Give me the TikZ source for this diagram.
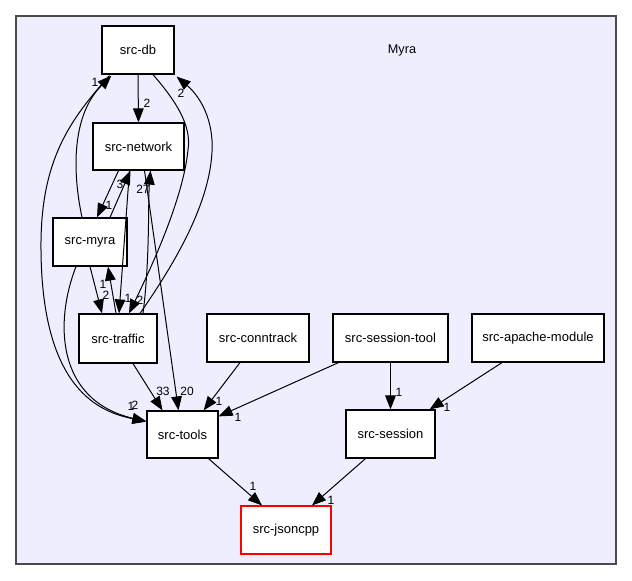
\documentclass[tikz,border=0pt]{standalone}
\usepackage{fontspec}
\setmainfont{Liberation Sans}
\usetikzlibrary{arrows.meta,calc}
\definecolor{clusterfill}{HTML}{EEEEFF}
\definecolor{clusterline}{HTML}{4A4A4A}
\tikzset{
  dirbox/.style={draw=black, fill=white, line width=0.9pt, inner sep=0pt, minimum height=36pt, font=\fontsize{9.75pt}{11pt}\selectfont},
  dep/.style={-{Triangle[length=10.5pt,width=8pt]}, line width=0.75pt, black},
  cnt/.style={inner sep=0pt, font=\fontsize{9pt}{10pt}\selectfont}
}
\begin{document}
\begin{tikzpicture}[x=0.75pt,y=-0.75pt]
\useasboundingbox (0,0) rectangle (632,581);
\fill[white] (0,0) rectangle (632,581);
\draw[fill=clusterfill, draw=clusterline, line width=1.1pt] (16,16) rectangle (616,564);
\node[font=\fontsize{9.5pt}{11pt}\selectfont] (title) at (402,50) {Myra};

\node[dirbox, minimum width=54pt] (db) at (138,50) {src-db};
\node[dirbox, minimum width=68.25pt, minimum height=35.25pt] (network) at (138.5,146.5) {src-network};
\node[dirbox, minimum width=55.5pt] (myra) at (90,242) {src-myra};
\node[dirbox, minimum width=58.5pt, minimum height=36.75pt] (traffic) at (118,338.5) {src-traffic};
\node[dirbox, minimum width=76.5pt] (conntrack) at (258,338) {src-conntrack};
\node[dirbox, minimum width=86.25pt] (sessiontool) at (390.5,338) {src-session-tool};
\node[dirbox, minimum width=99pt] (apache) at (538,338) {src-apache-module};
\node[dirbox, minimum width=53.25pt, minimum height=35.25pt] (tools) at (182.5,434.5) {src-tools};
\node[dirbox, minimum width=66.75pt] (session) at (390.5,434) {src-session};
\node[dirbox, draw=red, minimum width=67.5pt] (jsoncpp) at (286,530) {src-jsoncpp};

% db edges
\draw[dep] (db.south) -- (network.north);
\draw[dep] ($(db.south)+(15,0)$) .. controls (175,100) and (192,125) .. (188,150) .. controls (183,200) and (150,270) .. ($(traffic.north)+(11,0)$);
\draw[dep] ($(db.south west)+(8,1)$) .. controls (70,120) and (40,160) .. (41,250) .. controls (42,390) and (100,412) .. ($(tools.west)+(0,-13)$);
% traffic -> db
\draw[dep] ($(traffic.north)+(22,0)$) .. controls (170,270) and (215,200) .. (212,140) .. controls (210,110) and (195,92) .. ($(db.south east)+(2,2)$);
% myra edges
\draw[dep] ($(myra.north)+(-8,0)$) .. controls (72,170) and (72,115) .. ($(db.south west)+(10,1)$);
\draw[dep] ($(myra.south)+(-14,0)$) .. controls (55,320) and (55,400) .. ($(tools.west)+(0,-13)$);
\draw[dep] (myra.south) -- ($(traffic.north)+(-16,0)$);
\draw[dep] ($(myra.north)+(20,0)$) -- ($(network.south)+(-8,0)$);
% traffic -> myra
\draw[dep] ($(traffic.north)+(-2,0)$) -- ($(myra.south)+(18,0)$);
% network edges
\draw[dep] ($(network.south)+(-20,0)$) -- ($(myra.north)+(7,0)$);
\draw[dep] ($(network.south)+(-9,0)$) -- ($(traffic.north)+(1,0)$);
\draw[dep] ($(network.south)+(6,0)$) -- ($(tools.north)+(-4,0)$);
% traffic -> network
\draw[dep] ($(traffic.north)+(25,0)$) .. controls (150,260) and (148,200) .. ($(network.south)+(12,0)$);
% traffic -> tools
\draw[dep] ($(traffic.south)+(15,0)$) -- ($(tools.north)+(-20,0)$);
% others
\draw[dep] ($(conntrack.south)+(-18,0)$) -- ($(tools.north east)+(-15,0)$);
\draw[dep] ($(sessiontool.south)+(-52,0)$) -- ($(tools.north east)+(0,6)$);
\draw[dep] (sessiontool.south) -- (session.north);
\draw[dep] ($(apache.south)+(-36,0)$) -- ($(session.north east)+(-6,0)$);
\draw[dep] ($(tools.south)+(26,0)$) -- ($(jsoncpp.north)+(-24,0)$);
\draw[dep] ($(session.south)+(-25,0)$) -- ($(jsoncpp.north)+(26,0)$);

% edge labels
\node[cnt] (l1) at (147,103) {2};
\node[cnt] (l2) at (140,300) {2};
\node[cnt] (l3) at (181,93) {2};
\node[cnt] (l4) at (95,82) {1};
\node[cnt] (l5) at (131,406) {1};
\node[cnt] (l6) at (135,405) {2};
\node[cnt] (l7) at (106,295) {2};
\node[cnt] (l8) at (103,284) {1};
\node[cnt] (l9) at (109,205) {1};
\node[cnt] (l10) at (120,184) {3};
\node[cnt] (l11) at (128,298) {1};
\node[cnt] (l12) at (143,189) {27};
\node[cnt] (l13) at (187,391) {20};
\node[cnt] (l14) at (163,391) {33};
\node[cnt] (l15) at (219,401) {1};
\node[cnt] (l16) at (238,417) {1};
\node[cnt] (l17) at (399,392) {1};
\node[cnt] (l18) at (447,407) {1};
\node[cnt] (l19) at (253,486) {1};
\node[cnt] (l20) at (331,500) {1};
\end{tikzpicture}
\end{document}
